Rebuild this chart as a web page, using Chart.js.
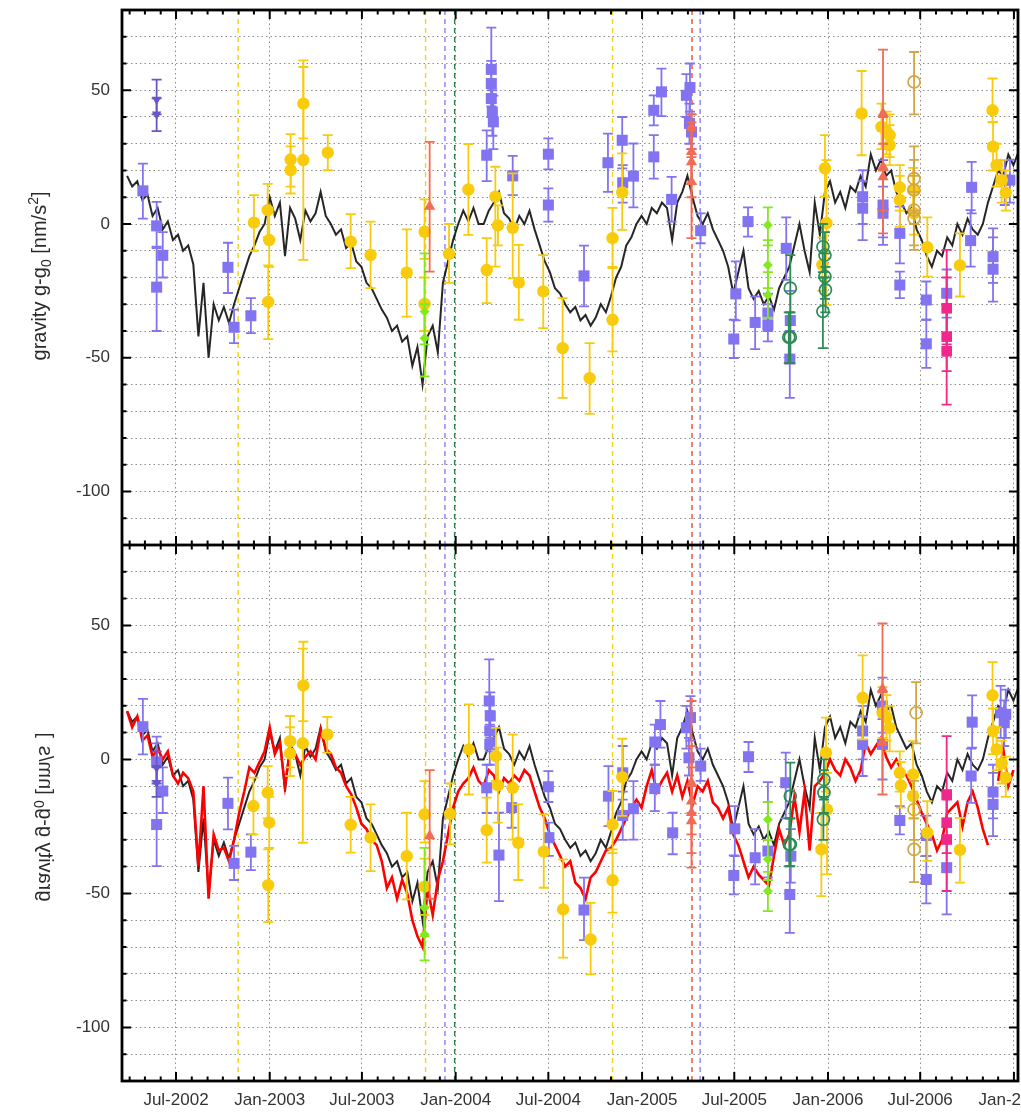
<!DOCTYPE html>
<html><head><meta charset="utf-8">
<script src="https://cdn.jsdelivr.net/npm/chart.js@4.4.1/dist/chart.umd.min.js"></script>
<style>
html,body{margin:0;padding:0;background:#fff;}
#wrap{position:relative;width:1021px;height:1117px;overflow:hidden;background:#fff;}
#c1{position:absolute;left:0;top:0;}
#c2{position:absolute;left:0;top:545px;}
</style></head><body>
<div id="wrap"><canvas id="c1" width="1021" height="545"></canvas><canvas id="c2" width="1021" height="572"></canvas></div>
<script>
// ---------------- DATA ----------------
const xMinDate = '2002-03-17', xMaxDate = '2007-01-09';
const xTickDates = ['2002-07-01','2003-01-01','2003-07-01','2004-01-01','2004-07-01','2005-01-01','2005-07-01','2006-01-01','2006-07-01','2007-01-01'];
const xTickLabels = ['Jul-2002','Jan-2003','Jul-2003','Jan-2004','Jul-2004','Jan-2005','Jul-2005','Jan-2006','Jul-2006','Jan-2007'];
const yTickLabelVals = [-100,-50,0,50];
const yMin = -120, yMax = 80, yStep = 10;

// continuous gravity records, one reading every lineStepDays from lineStart
const lineStart = '2002-03-27';
const lineStepDays = 10;
const blackVals = [
18,14,16,9,11,3,6,-2,1,-6,
-4,-10,-8,-15,-42,-22,-50,-30,-36,-31,
-37,-30,-24,-18,-12,-8,-3,0,10,3,
8,-12,6,2,-6,5,1,4,12,3,
0,-4,-2,-9,-7,-14,-16,-22,-24,-28,
-32,-35,-40,-38,-44,-42,-53,-46,-60,-42,
-38,-48,-22,-14,-6,0,5,1,6,0,
0,5,8,12,4,2,-2,3,0,5,
-2,-8,-14,-18,-24,-26,-30,-33,-31,-36,
-34,-38,-35,-30,-33,-27,-20,-16,-8,-5,
0,3,0,6,4,8,6,-6,8,12,
18,10,3,0,4,-2,-6,-10,-16,-26,
-18,-10,-24,-28,-25,-30,-27,-32,-24,-20,
-16,-8,0,-10,-18,8,-4,12,16,8,
12,6,14,12,18,14,26,20,24,18,
20,12,8,4,6,-2,-6,-12,-16,-10,
-12,-5,-8,0,-4,2,-2,-4,0,8,
14,20,18,26,22,27
];
const redVals = [
18,12,16,7,9,1,4,0,3,-6,
-9,-5,-7,-12,-40,-10,-52,-28,-34,-33,
-38,-30,-20,-12,-3,-5,-1,3,12,2,
6,-10,4,2,-2,1,3,0,11,4,
2,-3,-5,-10,-13,-18,-24,-26,-30,-32,
-38,-48,-44,-52,-45,-50,-60,-66,-70,-48,
-58,-45,-38,-28,-18,-12,-9,-7,-3,-8,
-10,-4,-6,-12,-7,-9,-6,-8,-4,-6,
-12,-18,-22,-28,-32,-36,-40,-38,-46,-48,
-52,-44,-42,-38,-34,-33,-30,-26,-22,-18,
-15,-18,-10,-4,-12,-8,-5,-12,-6,-14,
-8,-17,-10,-12,-8,-16,-18,-22,-18,-28,
-32,-38,-44,-40,-43,-45,-47,-36,-26,-32,
-28,-14,-27,-12,-34,-10,-8,-5,0,-4,
-6,0,-3,-8,-4,6,2,5,8,1,
-3,0,-4,-6,-10,-15,-20,-24,-28,-34,
-30,-20,-18,-16,-25,-16,-12,-18,-26,-32,
null,-8,4,-10,-4,null
];

// vertical event markers
const eventDates  = ['2002-10-31','2003-11-03','2003-12-11','2003-12-30','2004-11-04','2005-04-09','2005-04-25'];
const eventKinds  = ['yellow','yellow','blue','green','yellow','red','blue'];

// point measurements: [date, value, errLow, errHigh]
const topBlueSq = [
['2002-04-27',12.4,2,22.6],['2002-05-24',-0.7,-9,8.3],['2002-05-24',-23.6,-40,-8.5],['2002-06-05',-11.7,-20,-3],
['2002-10-11',-16.2,-25.8,-7],['2002-10-23',-38.6,-44.5,-32],['2002-11-25',-34.3,-40.8,-27.7],
['2004-03-02',25.7,16,35],['2004-03-11',57.8,48,73.4],['2004-03-11',52.5,44,61],['2004-03-11',46.9,40,54],
['2004-03-13',41.9,33,50],['2004-03-15',38.2,28,48],['2004-04-22',18,10.8,25.5],['2004-07-01',26.1,20.4,32],
['2004-07-01',7.1,0.9,13.3],['2004-09-09',-19.4,-30.8,-8.1],['2004-10-26',22.9,12,33.8],['2004-11-23',31.3,20.8,40],
['2004-11-24',15.4,8,22],['2004-12-15',17.9,6.2,30.1],['2005-01-24',42.5,36.9,48.1],['2005-01-24',25.1,17,33.2],
['2005-02-08',49.4,40.3,58.1],['2005-02-28',9.2,0.9,17.6],['2005-03-29',48.1,40,56],['2005-04-05',51,42,60],
['2005-04-04',37.6,30,45],['2005-04-08',34.4,28,41],['2005-04-26',-2.5,-7.2,4],['2005-06-30',-43,-50.1,-35.8],
['2005-07-04',-26.1,-36,-14],['2005-07-28',0.9,-4.7,6.2],['2005-08-11',-36.8,-46.8,-27.1],['2005-09-05',-37.7,-43.9,-30],
['2005-09-05',-33.3,-40,-26],['2005-10-11',-9.1,-20.9,2.5],['2005-10-19',-36.1,-50,-25],['2005-10-18',-50.5,-65,-40],
['2006-03-10',10.2,0,20.1],['2006-03-10',5.9,-6,16],['2006-04-19',7.1,-7.8,23.9],['2006-04-19',4,-5,14],
['2006-05-22',-3.5,-14.7,6.5],['2006-05-22',-22.8,-27.7,-17.8],['2006-07-13',-28.4,-35.8,-21.5],['2006-07-13',-44.8,-53.8,-35.8],
['2006-08-22',-25.9,-35,-17],['2006-10-10',13.7,4,23.2],['2006-10-08',-6.2,-15.9,5.2],['2006-11-21',-12.2,-22,-1.6],
['2006-11-21',-16.9,-29,-5],['2006-12-14',16.4,7.1,23.9],['2006-12-24',16.4,8,24]
];
const topYellow = [
['2002-12-01',0.5,-10,10.8],['2002-12-28',5.2,-5,15],['2002-12-31',-6,-16,4],['2002-12-29',-29.1,-43,-15.5],
['2003-02-11',24.1,14,33.6],['2003-02-11',20.1,11.4,29],['2003-03-08',45,32,61.2],['2003-03-08',23.9,-13.4,58.7],
['2003-04-25',26.7,20.1,33.2],['2003-06-09',-6.6,-16.5,3.7],['2003-07-18',-11.6,-24,0.9],['2003-09-27',-18.2,-34.6,-2],
['2003-11-01',-2.9,-13,9.2],['2003-11-01',-29.9,-40,-20],['2003-12-19',-11.2,-22,0],['2004-01-26',12.9,-4.1,29.9],
['2004-03-02',-17.2,-29.6,-5.3],['2004-03-19',10.2,-15.9,21.4],['2004-03-24',-0.5,-8,7],['2004-04-22',-1.4,-20.3,18.9],
['2004-05-04',-21.9,-35.8,-7.8],['2004-06-21',-25.2,-38.9,-11.6],['2004-07-29',-46.4,-65,-27.7],['2004-09-20',-57.6,-71,-44.5],
['2004-11-04',-5.3,-16,6],['2004-11-04',-35.8,-47.6,-16.5],['2004-11-23',11.8,-2.2,26.4],['2005-12-21',-15.3,-25,-5],
['2005-12-26',20.8,10.2,33.2],['2005-12-29',0.3,-30.2,23.9],['2006-03-08',41.3,25.7,57.2],['2006-04-16',36.3,28,45],
['2006-04-26',34.4,26,42],['2006-05-02',33.2,25,41],['2006-05-02',29.5,22,37],['2006-05-22',13.7,5,22],
['2006-05-22',9,-1,18],['2006-06-17',12.7,4,21],['2006-06-19',4,-4,12],['2006-07-15',-8.7,-19.7,2.5],
['2006-09-17',-15.5,-27.1,-3.5],['2006-11-20',42.5,38.2,54.4],['2006-11-21',28.9,20,38],['2006-11-28',22,14,30],
['2006-12-08',16.4,8,24],['2006-12-16',11.7,5,20]
];
const topGreenDia = [
['2003-11-01',-32.7,-45,-11],['2003-11-01',-42.7,-57,-30],
['2005-09-05',-0.4,-8,6.2],['2005-09-05',-15.3,-24,-6],['2005-09-05',-26.5,-35,-18]
];
const topRedTri = [
['2003-11-11',6.5,-17.8,30.7],['2005-04-08',36.3,25,41],['2005-04-08',27,15,38],['2005-04-08',23.2,10,35],
['2005-04-08',15.8,-5.3,28],['2006-04-19',41.3,20,65.2],['2006-04-19',21.4,-3.5,40],['2006-04-19',17.6,5,30]
];
const topDkGreenOpen = [
['2005-10-19',-24,-33,-11.6],['2005-10-19',-42.3,-52,-33],['2005-10-16',-42.3,-52,-33],
['2005-12-22',-8.5,-18,0],['2005-12-26',-11.6,-20,-3],['2005-12-26',-19.7,-28,-11],['2005-12-27',-24.6,-33,-16],['2005-12-22',-32.7,-46.4,-20]
];
const topPinkSq = [['2006-08-22',-31.5,-45,-20],['2006-08-22',-42.1,-55,-30],['2006-08-22',-47.6,-67.5,-9.7]];
const topTanOpen = [
['2006-06-19',53.1,41,64.3],['2006-06-19',17,5,29],['2006-06-19',12.7,0,24],['2006-06-19',5.2,-9.7,18],['2006-06-19',2.1,-8,12]
];
const topDkBlueTri = [['2002-05-24',46.5,41,54],['2002-05-24',41,34.7,47]];

const botBlueSq = [
['2002-04-27',12.2,1.9,22.6],['2002-05-24',-0.9,-8,6],['2002-06-05',-11.8,-20,-3],['2002-05-24',-24.3,-39.8,8.5],
['2002-10-11',-16.4,-26.1,-6.8],['2002-10-23',-38.8,-45,-32.3],['2002-11-25',-34.6,-41.3,-28],
['2004-03-07',21.8,10,37.3],['2004-03-09',16.2,8,25],['2004-03-08',10.6,3,18],['2004-03-08',5.6,-2,13],
['2004-03-02',-10.6,-20,-2],['2004-03-26',-35.7,-52.9,-19.9],['2004-04-20',-18,-25.5,-10.6],['2004-07-01',-10.2,-15.9,-4.4],
['2004-07-02',-29.2,-36,-23.6],['2004-09-09',-56.2,-67.4,-44.1],['2004-10-27',-13.7,-24.9,-2.5],['2004-11-24',-5,-15,5],
['2004-11-24',-20.9,-30,-12],['2004-12-15',-18.4,-29.9,-8.1],['2005-01-26',6.5,-2,13],['2005-01-26',-10.9,-19.3,-2],
['2005-02-06',13,4.4,21.8],['2005-03-02',-27.4,-35.4,-19.9],['2005-03-29',11.8,4,20],['2005-04-06',15.6,7,23.6],
['2005-04-03',0.6,-6,8],['2005-04-26',-2.5,-8,4],['2005-07-02',-25.9,-36.1,-17.4],['2005-06-30',-43.3,-50.4,-35.8],
['2005-07-29',1,-4.7,6.5],['2005-08-11',-36.7,-46.6,-26],['2005-09-05',-34.2,-44,-8.5],['2005-10-10',-8.7,-22,2.5],
['2005-10-20',-36.1,-46,-26],['2005-10-18',-50.4,-64.7,-40],['2006-03-10',10.6,0,20],['2006-03-10',5.6,-6.2,16],
['2006-04-18',19.9,10,30.5],['2006-04-18',5.6,-7.5,15],['2006-05-22',-22.8,-28,-17.4],['2006-07-13',-28.4,-36,-21],
['2006-07-13',-44.8,-53.7,-36.1],['2006-08-22',-40.4,-57.8,-30],['2006-10-11',13.9,4.4,23.9],['2006-10-09',-6.2,-16.2,4],
['2006-11-21',-12.2,-22,-2],['2006-11-21',-16.8,-28.6,-5],['2006-12-06',17.4,8,27.4],['2006-12-16',16.8,8,26],['2006-12-13',13.7,5,22]
];
const botYellow = [
['2002-11-30',-17.4,-28,-6.8],['2002-12-28',-12.4,-22,-2.5],['2002-12-31',-23.6,-33,-14],['2002-12-29',-46.9,-60.7,-33.6],
['2003-02-10',6.8,-3,16.2],['2003-02-10',2.2,-6.2,12],['2003-03-08',27.6,14.3,43.9],['2003-03-07',6,-31.1,41.3],
['2003-04-24',9.3,2.5,15.9],['2003-06-09',-24.4,-34.8,-14],['2003-07-18',-29.2,-41.7,-16.8],['2003-09-27',-36.1,-52.2,-19.9],
['2003-11-01',-20.5,-31,-8.1],['2003-11-01',-47.5,-58,-37],['2003-12-21',-20.3,-31.7,-9],['2004-01-27',3.7,-13.1,20.5],
['2004-03-02',-26.4,-38.5,-14.3],['2004-03-20',1.2,-8,11.8],['2004-03-24',-9.7,-23.6,4.4],['2004-04-22',-10.6,-29.9,9.3],
['2004-05-03',-31.1,-45,-16.8],['2004-06-22',-34.4,-47.9,-20.5],['2004-07-30',-56,-74,-37.3],['2004-09-22',-67.2,-80.2,-53.5],
['2004-11-04',-24.3,-35,-11.8],['2004-11-04',-45.1,-57.2,-33.6],['2004-11-23',-6.6,-21.1,7.7],['2005-12-28',2.5,-12,15.6],
['2005-12-30',-18.7,-42.9,-5],['2005-12-19',-33.6,-51,-20],['2006-03-10',23,7.5,38.8],['2006-04-18',17.4,8,27],
['2006-04-26',15.6,7,24],['2006-05-02',11.8,3,20],['2006-05-22',-5,-12,3],['2006-05-24',-9.7,-18,-1],
['2006-06-17',-5.6,-12,6.8],['2006-06-17',-13.7,-22,-5],['2006-07-15',-27.4,-37.9,-15.6],['2006-09-17',-33.8,-46,-21.8],
['2006-11-20',23.9,11.2,36.3],['2006-11-21',10.6,2,19],['2006-11-28',3.7,-4,12],['2006-12-08',-1.5,-9,7],['2006-12-16',-6.8,-14,1]
];
const botGreenDia = [
['2003-11-01',-55.4,-66,-33],['2003-11-01',-65.3,-75,-55],
['2005-09-05',-22.4,-30,-15.9],['2005-09-05',-37.3,-45,-30],['2005-09-05',-49.1,-56.6,-42]
];
const botRedTri = [
['2003-11-11',-28.6,-52,-4],['2005-04-08',-8.7,-20,5],['2005-04-08',-15.6,-28,-3],['2005-04-08',-19.9,-40.4,21.8],
['2005-04-08',-23,-35,-10],['2006-04-18',26.4,6,50.7],['2006-04-18',6.2,-13.1,25]
];
const botDkGreenOpen = [
['2005-10-19',-13.7,-22,-1.2],['2005-10-17',-31.7,-39.8,-22],['2005-10-19',-31.7,-39.8,-22],
['2005-12-24',-7.5,-15,0],['2005-12-24',-12.4,-20,-4],['2005-12-23',-22.4,-30,-14]
];
const botPinkSq = [['2006-08-22',-13.1,-25,8.7],['2006-08-22',-23.6,-35,-12],['2006-08-22',-29.9,-49.1,-15]];
const botTanOpen = [['2006-06-23',17.4,6,28.8],['2006-06-19',-18.7,-30,-8],['2006-06-19',-33.6,-45.8,-22]];
const botDkBlueTri = [['2002-05-24',-3.1,-9,3],['2002-05-24',-8.7,-14,-3]];

// ---------------- STYLES ----------------
const COL = {blue:'#8273f0', yellow:'#f8cb0c', green:'#84e81e', red:'#f26b55', dkgreen:'#2e8b57',
             pink:'#f0288c', tan:'#d2a645', dkblue:'#6656c8'};
const EVCOL = {yellow:'#f2d21a', blue:'#8b7ef4', green:'#2f7f52', red:'#ec4b3c'};
const FONT = "'Liberation Sans', Arial, Helvetica, sans-serif";

// ---------------- HELPERS ----------------
const DAY = 86400000;
const toDay = s => Date.UTC(+s.slice(0,4), +s.slice(5,7)-1, +s.slice(8,10)) / DAY;
const xMin = toDay(xMinDate), xMax = toDay(xMaxDate);
const lineX = i => toDay(lineStart) + i*lineStepDays;

function lineDs(vals, color, width, order){
  return {type:'line', data: vals.map((v,i)=>({x:lineX(i), y:v})), borderColor:color, borderWidth:width,
          pointRadius:0, tension:0, fill:false, spanGaps:false, order:order};
}
function markerDs(rows, col, ps, r, opts){
  opts = opts||{};
  return {type:'scatter', data: rows.map(q=>({x:toDay(q[0]), y:q[1], lo:q[2], hi:q[3]})),
    pointStyle: ps, pointRadius: r, rotation: opts.rot||0,
    backgroundColor: opts.open ? 'rgba(0,0,0,0)' : col, borderColor: col, borderWidth: opts.open ? 1.7 : 0,
    errColor: col, order: opts.order||1};
}

const eventPlugin = {id:'events', beforeDatasetsDraw(chart){
  const {ctx, chartArea:a, scales:{x}} = chart;
  ctx.save(); ctx.lineWidth = 1.4; ctx.setLineDash([5,4]);
  eventDates.forEach((d,i)=>{
    const px = x.getPixelForValue(toDay(d));
    ctx.strokeStyle = EVCOL[eventKinds[i]];
    ctx.beginPath(); ctx.moveTo(px, a.top); ctx.lineTo(px, a.bottom); ctx.stroke();
  });
  ctx.restore();
}};
const errPlugin = {id:'errbars', beforeDatasetDraw(chart, args){
  const ds = chart.data.datasets[args.index];
  if(!ds.errColor) return;
  const {ctx, chartArea:a, scales:{x,y}} = chart;
  ctx.save(); ctx.beginPath(); ctx.rect(a.left,a.top,a.right-a.left,a.bottom-a.top); ctx.clip();
  ctx.strokeStyle = ds.errColor; ctx.lineWidth = 1.8;
  ds.data.forEach(p=>{
    const px = x.getPixelForValue(p.x), y1 = y.getPixelForValue(p.lo), y2 = y.getPixelForValue(p.hi);
    ctx.beginPath();
    ctx.moveTo(px,y1); ctx.lineTo(px,y2);
    ctx.moveTo(px-5,y1); ctx.lineTo(px+5,y1);
    ctx.moveTo(px-5,y2); ctx.lineTo(px+5,y2);
    ctx.stroke();
  });
  ctx.restore();
}};
const framePlugin = {id:'frame', afterDatasetsDraw(chart){
  const {ctx, chartArea:a, scales:{x,y}} = chart;
  ctx.save(); ctx.strokeStyle = '#000'; ctx.lineWidth = 2;
  ctx.beginPath();
  for(let yr=2002; yr<=2007; yr++) for(let m=0; m<12; m++){
    const d = Date.UTC(yr,m,1)/DAY; if(d<=xMin || d>=xMax) continue;
    const px = x.getPixelForValue(d), len = (m===0||m===6) ? 9 : 4.5;
    ctx.moveTo(px,a.top); ctx.lineTo(px,a.top+len);
    ctx.moveTo(px,a.bottom); ctx.lineTo(px,a.bottom-len);
  }
  for(let v=yMin+yStep; v<yMax; v+=yStep){
    const py = y.getPixelForValue(v), len = (v%50===0) ? 9 : 4.5;
    ctx.moveTo(a.left,py); ctx.lineTo(a.left+len,py);
    ctx.moveTo(a.right,py); ctx.lineTo(a.right-len,py);
  }
  ctx.stroke();
  ctx.lineWidth = 2.8; ctx.strokeRect(a.left, a.top, a.right-a.left, a.bottom-a.top);
  ctx.restore();
}};
function drawYTitle(ctx, cx, cy, mirrored){
  const segs = [['gravity g-g',20,0,true],['0',14,5,true],[' [nm/s',20,0,true],['2',14,-8,!mirrored],[']',20,0,true]];
  ctx.save(); ctx.fillStyle = '#2a2a2a'; ctx.textBaseline = 'alphabetic'; ctx.textAlign = 'left';
  let W = 0; segs.forEach(s=>{ctx.font = s[1]+'px '+FONT; W += ctx.measureText(s[0]).width;});
  ctx.translate(cx, cy); if(mirrored) ctx.scale(-1,1); ctx.rotate(-Math.PI/2);
  let u = -W/2;
  segs.forEach(s=>{ctx.font = s[1]+'px '+FONT; if(s[3]) ctx.fillText(s[0], u, s[2]); u += ctx.measureText(s[0]).width;});
  ctx.restore();
}
const titlePlugin = {id:'ytitle', afterDraw(chart){
  const o = chart.options.plugins.ytitle;
  drawYTitle(chart.ctx, o.x, o.y, o.mirrored);
}};

function makeScales(showLabels){
  return {
    x: {type:'linear', min:xMin, max:xMax,
      afterBuildTicks: ax => { ax.ticks = xTickDates.map(d=>({value:toDay(d)})); },
      ticks:{display:showLabels, autoSkip:false, maxRotation:0, minRotation:0, padding:9,
             font:{family:FONT, size:17}, color:'#333', callback:(v,i)=>xTickLabels[i]},
      grid:{drawTicks:false, color:'#8c8c8c', lineWidth:1},
      border:{display:false, dash:[1.5,3]},
      afterFit: ax => { ax.height = showLabels ? 36 : 0; ax.paddingLeft = 0; ax.paddingRight = 0; }
    },
    y: {type:'linear', min:yMin, max:yMax,
      afterBuildTicks: ax => { const t=[]; for(let v=yMin; v<=yMax; v+=yStep) t.push({value:v}); ax.ticks = t; },
      ticks:{autoSkip:false, padding:12, font:{family:FONT, size:17}, color:'#333',
             callback: v => yTickLabelVals.includes(v) ? String(v) : ''},
      grid:{drawTicks:false, color:'#8c8c8c', lineWidth:1},
      border:{display:false, dash:[1.5,3]},
      afterFit: ax => { ax.width = 122; ax.paddingTop = 0; ax.paddingBottom = 0; }
    }
  };
}
function baseOptions(showLabels, padTop, title){
  return {responsive:false, animation:false, devicePixelRatio:1, events:[],
    layout:{autoPadding:false, padding:{top:padTop, left:0, right:3, bottom:0}},
    scales: makeScales(showLabels),
    plugins:{legend:{display:false}, tooltip:{enabled:false}, ytitle:title}};
}

new Chart(document.getElementById('c1'), {
  data:{datasets:[
    markerDs(topPinkSq, COL.pink, 'rect', 7.5, {order:2}),
    markerDs(topRedTri, COL.red, 'triangle', 6.5, {order:3}),
    markerDs(topTanOpen, COL.tan, 'circle', 6, {open:true, order:4}),
    markerDs(topDkGreenOpen, COL.dkgreen, 'circle', 6, {open:true, order:4}),
    markerDs(topGreenDia, COL.green, 'rectRot', 5, {order:5}),
    markerDs(topYellow, COL.yellow, 'circle', 6.2, {order:6}),
    markerDs(topDkBlueTri, COL.dkblue, 'triangle', 5.5, {rot:180, order:7}),
    markerDs(topBlueSq, COL.blue, 'rect', 7.8, {order:8}),
    lineDs(blackVals, 'rgba(0,0,0,0.85)', 2, 10)
  ]},
  options: baseOptions(false, 10, {x:46, y:276, mirrored:false}),
  plugins:[eventPlugin, errPlugin, framePlugin, titlePlugin]
});
new Chart(document.getElementById('c2'), {
  data:{datasets:[
    markerDs(botPinkSq, COL.pink, 'rect', 7.5, {order:2}),
    markerDs(botRedTri, COL.red, 'triangle', 6.5, {order:3}),
    markerDs(botTanOpen, COL.tan, 'circle', 6, {open:true, order:4}),
    markerDs(botDkGreenOpen, COL.dkgreen, 'circle', 6, {open:true, order:4}),
    markerDs(botGreenDia, COL.green, 'rectRot', 5, {order:5}),
    markerDs(botYellow, COL.yellow, 'circle', 6.2, {order:6}),
    markerDs(botDkBlueTri, COL.dkblue, 'triangle', 5.5, {rot:180, order:7}),
    markerDs(botBlueSq, COL.blue, 'rect', 7.8, {order:8}),
    lineDs(redVals, '#ff0000', 2.6, 9),
    lineDs(blackVals, 'rgba(0,0,0,0.85)', 2, 10)
  ]},
  options: baseOptions(true, 0, {x:39, y:272, mirrored:true}),
  plugins:[eventPlugin, errPlugin, framePlugin, titlePlugin]
});
</script>
</body></html>
